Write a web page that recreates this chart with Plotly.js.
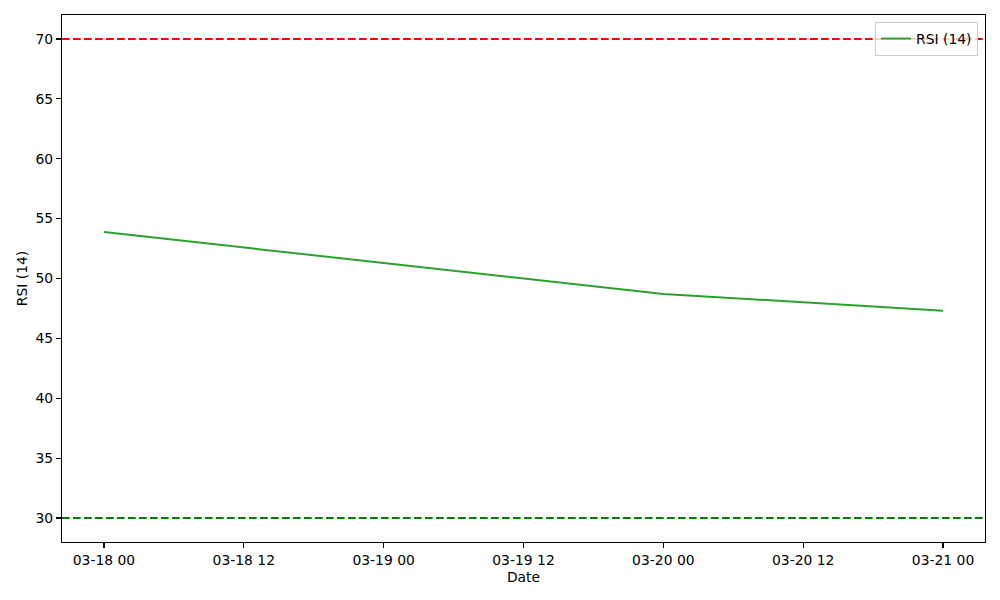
<!DOCTYPE html>
<html>
<head>
<meta charset="utf-8">
<script src="https://cdn.plot.ly/plotly-3.0.1.min.js"></script>
<style>html,body{margin:0;padding:0;background:#fff}#chart{width:1000px;height:600px}</style>
</head>
<body>
<div id="chart"></div>
<script>
const dates = ["2024-03-18 00:00", "2024-03-19 00:00", "2024-03-20 00:00", "2024-03-21 00:00"];
const rsiValues = [53.88, 51.29, 48.71, 47.31];
const seriesName = "RSI (14)";
const overbought = 70;
const oversold = 30;
const yTickVals = [30, 35, 40, 45, 50, 55, 60, 65, 70];
const xRange = ["2024-03-17 20:24", "2024-03-21 03:36"];
const yRange = [28, 72];

const font = {family: "DejaVu Sans, sans-serif", size: 13.9, color: "#000"};

const trace = {
  x: dates, y: rsiValues, type: "scatter", mode: "lines", name: seriesName,
  line: {color: "#2ca02c", width: 2}
};

const layout = {
  width: 1000, height: 600,
  paper_bgcolor: "#fff", plot_bgcolor: "#fff",
  font: font,
  margin: {l: 62, r: 15, t: 15, b: 58},
  showlegend: true,
  legend: {
    x: 0.9924, y: 0.9867, xanchor: "right", yanchor: "top",
    bgcolor: "rgba(255,255,255,0.8)", bordercolor: "#cccccc", borderwidth: 1,
    font: font
  },
  xaxis: {
    type: "date", range: xRange, dtick: 12 * 3600 * 1000, tick0: "2024-03-18 00:00",
    tickformat: "%m-%d %H", showgrid: false, zeroline: false,
    showline: true, mirror: true, linecolor: "#000", linewidth: 1.1,
    ticks: "outside", ticklen: 5, tickwidth: 1.1, tickcolor: "#000",
    title: {text: "Date", font: font, standoff: 5}
  },
  yaxis: {
    range: yRange, tickvals: yTickVals, showgrid: false, zeroline: false,
    showline: true, mirror: true, linecolor: "#000", linewidth: 1.1,
    ticks: "outside", ticklen: 5, tickwidth: 1.1, tickcolor: "#000",
    title: {text: seriesName, font: font, standoff: 4}
  },
  shapes: [
    {type: "line", xref: "paper", x0: 0, x1: 1, yref: "y", y0: overbought, y1: overbought,
     line: {color: "#ff0000", width: 2, dash: "7.7px,3.3px"}},
    {type: "line", xref: "paper", x0: 0, x1: 1, yref: "y", y0: oversold, y1: oversold,
     line: {color: "#008000", width: 2, dash: "7.7px,3.3px"}}
  ]
};

Plotly.newPlot("chart", [trace], layout, {displayModeBar: false, staticPlot: true});
</script>
</body>
</html>
